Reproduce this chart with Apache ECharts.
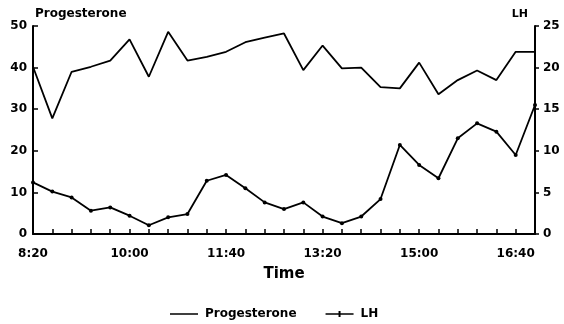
<!DOCTYPE html>
<html>
<head>
<meta charset="utf-8">
<script src="https://cdn.jsdelivr.net/npm/echarts@6/dist/echarts.min.js"></script>
<style>html,body{margin:0;padding:0;background:#fff}#c{width:564px;height:324px}</style>
</head>
<body>
<div id="c"></div>
<script>
const times = ['8:20','8:40','9:00','9:20','9:40','10:00','10:20','10:40','11:00','11:20','11:40','12:00','12:20','12:40','13:00','13:20','13:40','14:00','14:20','14:40','15:00','15:20','15:40','16:00','16:20','16:40','17:00'];
const progesterone = [40.2, 27.8, 39.0, 40.2, 41.7, 46.8, 37.8, 48.6, 41.7, 42.6, 43.8, 46.1, 47.2, 48.2, 39.4, 45.3, 39.8, 40.0, 35.3, 35.0, 41.2, 33.6, 37.0, 39.3, 37.0, 43.8, 43.8];
const lh = [6.2, 5.1, 4.4, 2.8, 3.2, 2.2, 1.05, 2.0, 2.4, 6.4, 7.1, 5.5, 3.8, 3.0, 3.8, 2.1, 1.3, 2.1, 4.2, 10.7, 8.3, 6.7, 11.5, 13.3, 12.3, 9.5, 15.5];
const leftTicks = {min: 0, max: 50, interval: 10};
const rightTicks = {min: 0, max: 25, interval: 5};

const FONT = 'DejaVu Sans';
const lab = {color: '#000', fontFamily: FONT, fontWeight: 'bold', fontSize: 12};
const chart = echarts.init(document.getElementById('c'), null, {renderer: 'canvas'});
chart.setOption({
  animation: false,
  backgroundColor: '#fff',
  grid: {left: 33, right: 29, top: 26, bottom: 90, containLabel: false},
  legend: {
    left: 165, top: 303,
    itemWidth: 28, itemHeight: 10, itemGap: 29,
    textStyle: Object.assign({}, lab, {padding: [0, 0, 0, 2]}),
    data: [
      {name: 'Progesterone', icon: 'path://M0,2.25 L28,2.25 L28,3.75 L0,3.75 Z M0,0 L0.01,0 L0.01,6 L0,6 Z'},
      {name: 'LH', icon: 'path://M0,2.25 L28,2.25 L28,3.75 L0,3.75 Z M13,0 L15,0 L15,6 L13,6 Z'}
    ]
  },
  xAxis: {
    type: 'category', data: times, boundaryGap: false,
    name: 'Time', nameLocation: 'middle', nameGap: 33,
    nameTextStyle: {color: '#000', fontFamily: FONT, fontWeight: 'bold', fontSize: 15},
    axisLine: {lineStyle: {color: '#000', width: 2}},
    axisTick: {inside: true, interval: 0, length: 5, lineStyle: {color: '#000', width: 1.5}},
    axisLabel: Object.assign({}, lab, {interval: 4, margin: 14}),
    splitLine: {show: false}
  },
  yAxis: [
    {
      type: 'value', min: leftTicks.min, max: leftTicks.max, interval: leftTicks.interval,
      name: 'Progesterone', nameLocation: 'end', nameGap: 12,
      nameTextStyle: Object.assign({}, lab, {align: 'left', verticalAlign: 'middle', padding: [0, 0, 0, 2]}),
      axisLine: {show: true, lineStyle: {color: '#000', width: 2}},
      axisTick: {show: true, inside: true, length: 5, lineStyle: {color: '#000', width: 1.5}},
      axisLabel: Object.assign({}, lab, {margin: 6, padding: [3, 0, 0, 0]}),
      splitLine: {show: false}
    },
    {
      type: 'value', min: rightTicks.min, max: rightTicks.max, interval: rightTicks.interval,
      name: 'LH', nameLocation: 'end', nameGap: 12,
      nameTextStyle: Object.assign({}, lab, {fontSize: 11, align: 'right', verticalAlign: 'middle', padding: [0, 7, 0, 0]}),
      axisLine: {show: true, lineStyle: {color: '#000', width: 2}},
      axisTick: {show: true, inside: false, length: 4, lineStyle: {color: '#000', width: 1.5}},
      axisLabel: Object.assign({}, lab, {margin: 8, padding: [3, 0, 0, 0]}),
      splitLine: {show: false}
    }
  ],
  series: [
    {
      name: 'Progesterone', type: 'line', yAxisIndex: 0, data: progesterone,
      symbol: 'none', lineStyle: {color: '#000', width: 1.8}, itemStyle: {color: '#000'}
    },
    {
      name: 'LH', type: 'line', yAxisIndex: 1, data: lh,
      symbol: 'circle', symbolSize: 4, showSymbol: true,
      lineStyle: {color: '#000', width: 1.8}, itemStyle: {color: '#000'}
    }
  ]
});
</script>
</body>
</html>
